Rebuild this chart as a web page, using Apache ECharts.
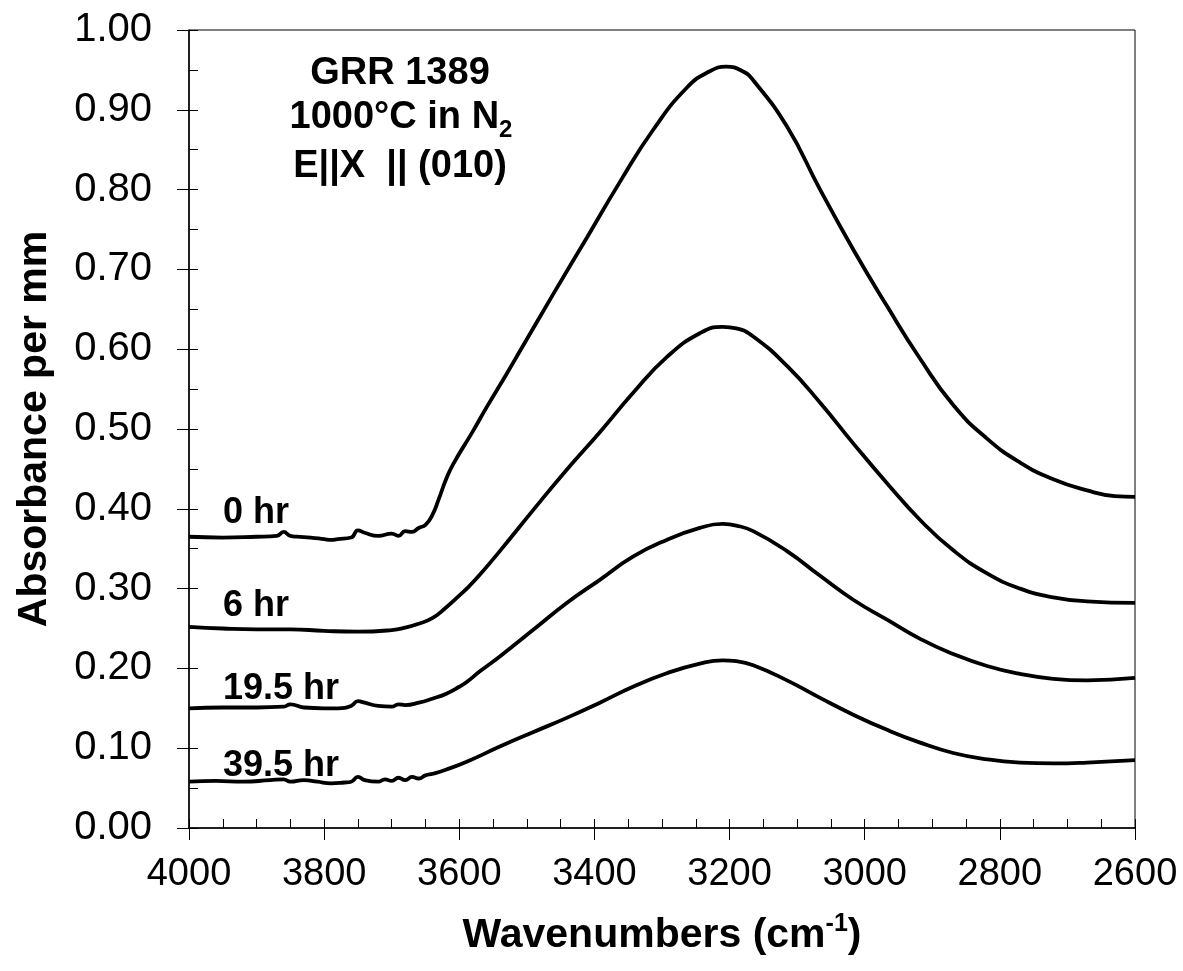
<!DOCTYPE html>
<html>
<head>
<meta charset="utf-8">
<script src="https://cdn.jsdelivr.net/npm/echarts@6/dist/echarts.min.js"></script>
<style>
html,body{margin:0;padding:0;background:#fff;}
#chart{width:1183px;height:971px;}
</style>
</head>
<body>
<div id="chart"></div>
<script>
// ---- data ----
const seriesNames = ['0 hr', '6 hr', '19.5 hr', '39.5 hr'];

const wn0 = [4000,3950,3900,3870,3860,3850,3840,3820,3800,3790,3780,3760,3750,3740,3720,3700,3690,3680,3670,3660,3650,3640,3630,3620,3609,3580,3559,3530,3510,3461,3411,3362,3313,3263,3230,3205,3180,3165,3115,3066,3017,2967,2918,2869,2819,2770,2721,2671,2630,2600];
const abs0 = [0.365,0.364,0.365,0.366,0.371,0.366,0.365,0.364,0.362,0.361,0.362,0.364,0.373,0.370,0.366,0.369,0.366,0.372,0.371,0.376,0.380,0.392,0.413,0.436,0.456,0.497,0.528,0.569,0.598,0.669,0.740,0.810,0.875,0.928,0.948,0.954,0.948,0.937,0.879,0.800,0.725,0.654,0.588,0.530,0.488,0.458,0.437,0.423,0.416,0.415];

const wn6 = [4000,3950,3900,3850,3800,3750,3700,3680,3660,3640,3620,3603,3589,3570,3540,3491,3441,3392,3343,3293,3244,3210,3190,3165,3115,3066,3017,2967,2918,2869,2819,2770,2721,2671,2600];
const abs6 = [0.252,0.250,0.249,0.249,0.247,0.246,0.248,0.251,0.256,0.263,0.276,0.289,0.300,0.317,0.347,0.398,0.449,0.496,0.545,0.590,0.620,0.628,0.626,0.616,0.579,0.533,0.482,0.432,0.386,0.348,0.319,0.300,0.289,0.284,0.282];

const wn19 = [4000,3950,3900,3860,3850,3830,3800,3780,3760,3750,3740,3720,3700,3690,3680,3660,3640,3620,3600,3589,3570,3540,3491,3441,3392,3343,3293,3244,3210,3190,3165,3115,3066,3017,2967,2918,2869,2819,2770,2721,2671,2600];
const abs19 = [0.150,0.151,0.151,0.152,0.155,0.151,0.150,0.150,0.153,0.159,0.157,0.153,0.152,0.155,0.154,0.157,0.162,0.168,0.177,0.183,0.196,0.215,0.248,0.282,0.311,0.340,0.361,0.376,0.381,0.379,0.372,0.347,0.316,0.286,0.261,0.237,0.218,0.203,0.193,0.187,0.185,0.188];

const wn39 = [4000,3960,3920,3880,3860,3850,3830,3810,3790,3770,3760,3750,3740,3720,3710,3700,3690,3680,3670,3660,3650,3639,3620,3589,3540,3491,3441,3392,3343,3293,3244,3210,3190,3165,3115,3066,3017,2967,2918,2869,2819,2770,2721,2671,2600];
const abs39 = [0.058,0.059,0.058,0.060,0.061,0.058,0.060,0.058,0.056,0.057,0.058,0.064,0.060,0.058,0.061,0.059,0.063,0.060,0.064,0.062,0.066,0.068,0.073,0.083,0.102,0.120,0.138,0.157,0.177,0.194,0.206,0.210,0.209,0.204,0.185,0.163,0.142,0.123,0.107,0.094,0.086,0.082,0.081,0.082,0.085];

const xTicks = [4000,3800,3600,3400,3200,3000,2800,2600];
const yTicks = [0,0.1,0.2,0.3,0.4,0.5,0.6,0.7,0.8,0.9,1.0];

const annotationLines = ['GRR 1389', '1000°C in N', 'E||X  || (010)'];

// ---- chart ----
const FONT = '"Liberation Sans", Arial, sans-serif';
const chart = echarts.init(document.getElementById('chart'), null, {renderer: 'canvas'});

function pairs(xs, ys){ return xs.map((x,i)=>[x, ys[i]]); }
const allData = [pairs(wn0,abs0), pairs(wn6,abs6), pairs(wn19,abs19), pairs(wn39,abs39)];

const axisLineStyle = {color:'#000', width:1.5};

const option = {
  backgroundColor:'#fff',
  animation:false,
  grid:{left:189, right:48, top:30, bottom:143, show:true, borderColor:'#000', borderWidth:1, backgroundColor:'transparent'},
  xAxis:[{
    type:'value', min:2600, max:4000, interval:200, inverse:true, position:'bottom',
    axisLine:{show:true, onZero:false, lineStyle:axisLineStyle},
    axisTick:{show:true, inside:false, length:12, lineStyle:{color:'#000', width:1}},
    minorTick:{show:false},
    splitLine:{show:false},
    axisLabel:{fontFamily:FONT, fontSize:38, color:'#000', margin:28,
      customValues: xTicks, formatter:v=>String(v)},
    name:'{m|Wavenumbers (cm}{s|-1}{m|)}', nameLocation:'middle', nameGap:84,
    nameTextStyle:{fontFamily:FONT, fontWeight:'bold', color:'#000',
      rich:{
        m:{fontFamily:FONT, fontWeight:'bold', fontSize:41, lineHeight:48, color:'#000'},
        s:{fontFamily:FONT, fontWeight:'bold', fontSize:25, lineHeight:20, verticalAlign:'top', color:'#000'}
      }}
  },{
    type:'value', min:2600, max:4000, interval:200, inverse:true, position:'bottom',
    axisLine:{show:false, onZero:false},
    axisTick:{show:true, inside:true, length:9, lineStyle:{color:'#000', width:1}},
    minorTick:{show:true, splitNumber:4, length:9, lineStyle:{color:'#000', width:1}},
    splitLine:{show:false},
    axisLabel:{show:false}
  }],
  yAxis:[{
    type:'value', min:0, max:1, interval:0.1, position:'left',
    axisLine:{show:true, onZero:false, lineStyle:axisLineStyle},
    axisTick:{show:true, inside:false, length:12, lineStyle:{color:'#000', width:1}},
    splitLine:{show:false},
    axisLabel:{fontFamily:FONT, fontSize:40, color:'#000', margin:37,
      customValues: yTicks, formatter:v=>v.toFixed(2)},
    name:'Absorbance per mm', nameLocation:'middle', nameGap:134, nameRotate:90,
    nameTextStyle:{fontFamily:FONT, fontWeight:'bold', fontSize:41, color:'#000'}
  },{
    type:'value', min:0, max:1, interval:0.1, position:'left',
    axisLine:{show:false, onZero:false},
    axisTick:{show:true, inside:true, length:9, lineStyle:{color:'#000', width:1}},
    minorTick:{show:true, splitNumber:2, length:9, lineStyle:{color:'#000', width:1}},
    splitLine:{show:false},
    axisLabel:{show:false}
  }],
  series: allData.map((d,i)=>({
    name: seriesNames[i], type:'line', data:d, xAxisIndex:0, yAxisIndex:0,
    showSymbol:false, symbol:'none', smooth:0.5,
    lineStyle:{color:'#000', width:3.8}, z:3
  })),
  graphic:[
    {type:'text', x:400, y:74, style:{text:annotationLines[0], font:'bold 38px '+FONT, fill:'#000', align:'center', verticalAlign:'middle'}},
    {type:'text', x:401, y:118, style:{text:'{m|'+annotationLines[1]+'}{s|2}', fill:'#000', align:'center', verticalAlign:'middle',
      rich:{ m:{font:'bold 38px '+FONT, lineHeight:48, fill:'#000'}, s:{font:'bold 24px '+FONT, lineHeight:20, verticalAlign:'bottom', fill:'#000'} }}},
    {type:'text', x:400, y:167, style:{text:annotationLines[2], font:'bold 38px '+FONT, fill:'#000', align:'center', verticalAlign:'middle'}},
    {type:'text', x:223, y:513, style:{text:seriesNames[0], font:'bold 36px '+FONT, fill:'#000', align:'left', verticalAlign:'middle'}},
    {type:'text', x:223, y:606, style:{text:seriesNames[1], font:'bold 36px '+FONT, fill:'#000', align:'left', verticalAlign:'middle'}},
    {type:'text', x:223, y:689, style:{text:seriesNames[2], font:'bold 36px '+FONT, fill:'#000', align:'left', verticalAlign:'middle'}},
    {type:'text', x:223, y:766, style:{text:seriesNames[3], font:'bold 36px '+FONT, fill:'#000', align:'left', verticalAlign:'middle'}}
  ]
};
chart.setOption(option);
</script>
</body>
</html>
